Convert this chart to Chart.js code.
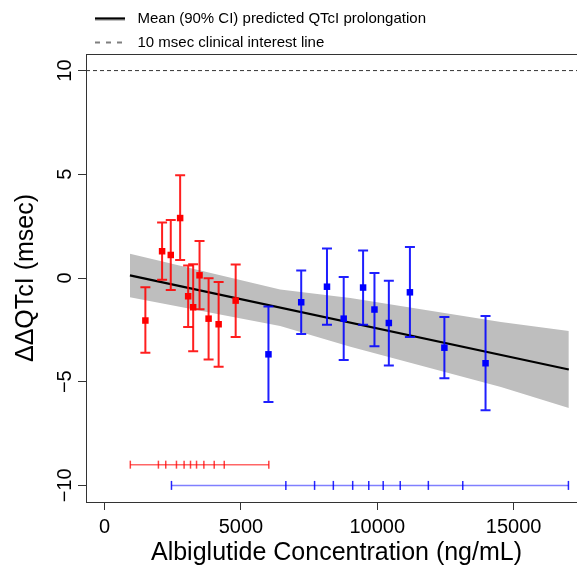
<!DOCTYPE html>
<html>
<head>
<meta charset="utf-8">
<script src="https://cdn.jsdelivr.net/npm/chart.js@4"></script>
<style>
  html, body { margin: 0; padding: 0; background: #fff; overflow: hidden; }
</style>
</head>
<body>
<!-- the plot region runs past the right edge of the window, as in the original -->
<canvas id="qtc_chart" width="600" height="572"></canvas>
<script>
// binned observations (red = low dose, blue = high dose)
const redConc = [1497, 2110, 2428, 2772, 3066, 3250, 3483, 3815, 4183, 4808];
const redMean = [-2.05, 1.29, 1.11, 2.89, -0.88, -1.41, 0.13, -1.96, -2.23, -1.09];
const redLo   = [-3.61, -0.08, -0.58, 0.87, -2.36, -3.53, -1.51, -3.93, -4.28, -2.84];
const redHi   = [-0.45, 2.67, 2.80, 4.95, 0.60, 0.66, 1.78, -0.01, -0.19, 0.65];

const blueConc = [6010, 7211, 8156, 8769, 9480, 9897, 10424, 11197, 12461, 13970];
const blueMean = [-3.68, -1.17, -0.42, -1.96, -0.46, -1.52, -2.17, -0.69, -3.36, -4.11];
const blueLo   = [-5.98, -2.70, -2.26, -3.95, -2.26, -3.29, -4.22, -2.84, -4.83, -6.38];
const blueHi   = [-1.38, 0.36, 1.42, 0.05, 1.33, 0.24, -0.13, 1.49, -1.88, -1.83];

// concentration bin edges shown along the bottom
const redEdges  = [945, 1975, 2244, 2637, 2917, 3152, 3373, 3642, 4021, 4389, 6023];
const blueEdges = [2454, 6648, 7701, 8389, 9099, 9688, 10217, 10842, 11873, 13135, 17009];
const redEdgeLevel = -9;
const blueEdgeLevel = -10;

// model prediction
const meanConc = [931, 17023];
const meanPred = [0.13, -4.41];
const bandConc = [931, 6439, 9014, 14533, 17023];
const bandHi   = [1.17, -0.56, -0.96, -2.12, -2.55];
const bandLo   = [-0.93, -2.31, -3.32, -5.25, -6.27];

const refLevel = 10;
const xRange = [-680, 17690];
const yRange = [-10.8, 10.8];
const xTicks = [0, 5000, 10000, 15000];
const yTicks = [-10, -5, 0, 5, 10];

const FONT = '"Liberation Sans", Arial, Helvetica, sans-serif';
const pts = (xs, ys) => xs.map((v, i) => ({x: v, y: ys[i]}));

// small canvases used as legend line symbols
function legendLine(dashed) {
  const c = document.createElement('canvas');
  c.width = 35; c.height = 4;
  const g = c.getContext('2d');
  g.strokeStyle = '#000';
  g.lineWidth = dashed ? 1.2 : 2.5;
  if (dashed) g.setLineDash([5, 6]);
  g.beginPath();
  g.moveTo(0, 2); g.lineTo(30, 2);
  g.stroke();
  return c;
}

const boxPlugin = {
  id: 'boxPlugin',
  afterDraw(chart) {
    const {ctx, chartArea: a} = chart;
    ctx.save();
    ctx.strokeStyle = '#333';
    ctx.lineWidth = 1;
    ctx.strokeRect(Math.round(a.left) + 0.5, Math.round(a.top) + 0.5, a.right - a.left, a.bottom - a.top);
    ctx.restore();
  }
};

const yTickLabels = {
  id: 'yTickLabels',
  afterDraw(chart) {
    const {ctx} = chart, y = chart.scales.y;
    ctx.save();
    ctx.font = '20px ' + FONT;
    ctx.fillStyle = '#000';
    ctx.textAlign = 'center';
    ctx.textBaseline = 'alphabetic';
    yTicks.forEach(v => {
      ctx.save();
      ctx.translate(y.right - 15, y.getPixelForValue(v));
      ctx.rotate(-Math.PI / 2);
      ctx.fillText(v < 0 ? '\u2212' + Math.abs(v) : String(v), 0, 0);
      ctx.restore();
    });
    ctx.restore();
  }
};

// error bars go on right after the mean line, under the squares
const errorBars = {
  id: 'errorBars',
  afterDatasetDraw(chart, args) {
    if (args.index !== 2) return;
    const {ctx, scales: {x, y}} = chart;
    const groups = [
      {xs: redConc, lo: redLo, hi: redHi, color: 'rgba(255,0,0,0.88)'},
      {xs: blueConc, lo: blueLo, hi: blueHi, color: 'rgba(0,0,255,0.88)'}
    ];
    ctx.save();
    ctx.lineWidth = 2;
    groups.forEach(g => {
      ctx.strokeStyle = g.color;
      g.xs.forEach((c, i) => {
        const px = x.getPixelForValue(c);
        const top = y.getPixelForValue(g.hi[i]);
        const bot = y.getPixelForValue(g.lo[i]);
        ctx.beginPath();
        ctx.moveTo(px, top); ctx.lineTo(px, bot);
        ctx.moveTo(px - 5, top); ctx.lineTo(px + 5, top);
        ctx.moveTo(px - 5, bot); ctx.lineTo(px + 5, bot);
        ctx.stroke();
      });
    });
    ctx.restore();
  }
};

const qtc_chart = document.getElementById('qtc_chart');

new Chart(qtc_chart, {
  type: 'line',
  data: {
    datasets: [{
      label: 'upper',
      data: pts(bandConc, bandHi),
      borderWidth: 0,
      pointRadius: 0,
      fill: false,
      order: 5
    },
    {
      label: 'lower',
      data: pts(bandConc, bandLo),
      borderWidth: 0,
      pointRadius: 0,
      backgroundColor: '#bebebe',
      fill: '-1',
      order: 4
    },
    {
      label: 'Mean (90% CI) predicted QTcI prolongation',
      data: pts(meanConc, meanPred),
      borderColor: '#000',
      borderWidth: 2.2,
      pointRadius: 0,
      fill: false,
      order: 3
    },
    {
      label: '10 msec clinical interest line',
      data: pts(xRange, [refLevel, refLevel]),
      borderColor: '#333',
      borderWidth: 1,
      borderDash: [4, 3],
      pointRadius: 0,
      fill: false,
      order: 6
    },
    {
      label: 'low',
      data: pts(redConc, redMean),
      showLine: false,
      pointStyle: 'rect',
      pointRadius: 4.6,
      pointBorderWidth: 0,
      pointBackgroundColor: '#ff0000',
      order: 1
    },
    {
      label: 'high',
      data: pts(blueConc, blueMean),
      showLine: false,
      pointStyle: 'rect',
      pointRadius: 4.6,
      pointBorderWidth: 0,
      pointBackgroundColor: '#0000ff',
      order: 0
    },
    {
      label: 'low bins',
      data: redEdges.map(v => ({x: v, y: redEdgeLevel})),
      borderColor: 'rgba(255,0,0,0.6)',
      borderWidth: 1.5,
      pointStyle: 'line',
      rotation: 90,
      pointRadius: 4,
      pointBorderWidth: 1.5,
      pointBorderColor: 'rgba(255,0,0,0.75)',
      fill: false,
      order: 2
    },
    {
      label: 'high bins',
      data: blueEdges.map(v => ({x: v, y: blueEdgeLevel})),
      borderColor: 'rgba(0,0,255,0.5)',
      borderWidth: 1.5,
      pointStyle: 'line',
      rotation: 90,
      pointRadius: 4.5,
      pointBorderWidth: 1.5,
      pointBorderColor: 'rgba(0,0,255,0.85)',
      fill: false,
      order: 2
    }]
  },
  options: {
    responsive: false,
    animation: false,
    events: [],
    layout: { padding: { top: 2, right: 13, left: 0, bottom: 0 } },
    elements: { line: { tension: 0 } },
    plugins: {
      tooltip: { enabled: false },
      legend: {
        position: 'top',
        align: 'start',
        fullSize: false,
        maxHeight: 52,
        onClick: null,
        labels: {
          usePointStyle: true,
          pointStyleWidth: 35,
          padding: 9,
          color: '#000',
          font: { family: FONT, size: 15 },
          generateLabels: () => [
            { text: 'Mean (90% CI) predicted QTcI prolongation', pointStyle: legendLine(false), lineWidth: 0, fontColor: '#000' },
            { text: '10 msec clinical interest line', pointStyle: legendLine(true), lineWidth: 0, fontColor: '#000' }
          ]
        }
      }
    },
    scales: {
      x: {
        type: 'linear',
        min: xRange[0],
        max: xRange[1],
        afterBuildTicks: s => { s.ticks = xTicks.map(v => ({value: v})); },
        afterFit: s => { s.height = 70; },
        border: { display: false },
        grid: { drawOnChartArea: false, drawTicks: true, tickLength: 8, color: '#333' },
        ticks: {
          padding: 5,
          maxRotation: 0,
          color: '#000',
          font: { family: FONT, size: 20 },
          callback: v => String(v)
        },
        title: {
          display: true,
          text: 'Albiglutide Concentration (ng/mL)',
          color: '#000',
          font: { family: FONT, size: 25 },
          padding: { top: 0, bottom: 4 }
        }
      },
      y: {
        type: 'linear',
        min: yRange[0],
        max: yRange[1],
        afterBuildTicks: s => { s.ticks = yTicks.map(v => ({value: v})); },
        afterFit: s => { s.width = 86; },
        border: { display: false },
        grid: { drawOnChartArea: false, drawTicks: true, tickLength: 8, color: '#333' },
        ticks: { display: false },
        title: {
          display: true,
          text: '\u0394\u0394QTcI (msec)',
          color: '#000',
          font: { family: FONT, size: 25 },
          padding: { top: 11, bottom: 0 }
        }
      }
    }
  },
  plugins: [errorBars, boxPlugin, yTickLabels]
});
</script>
</body>
</html>
